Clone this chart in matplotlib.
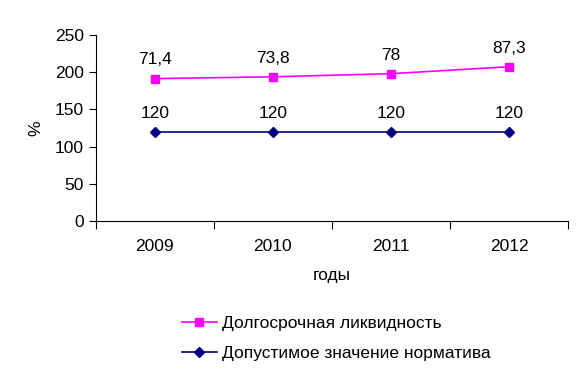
import matplotlib.pyplot as plt
import numpy as np

plt.rcParams['font.family'] = ['Liberation Sans', 'DejaVu Sans']

years = ['2009', '2010', '2011', '2012']
# линии в исходной диаграмме идут с накоплением
norm = [120, 120, 120, 120]
liquidity = [71.4, 73.8, 78, 87.3]

x = np.arange(len(years))
norm_arr = np.array(norm)
liq_stacked = norm_arr + np.array(liquidity)

fs = 12.5

fig = plt.figure(figsize=(5.88, 3.76), dpi=100)
ax = fig.add_axes([0.163, 0.412, 0.803, 0.495])

ax.plot(x, liq_stacked, color='#ff00ff', marker='s', markersize=6, lw=1.2,
        label='Долгосрочная ликвидность')
ax.plot(x, norm_arr, color='#000080', marker='D', markersize=5, lw=1.2,
        label='Допустимое значение норматива')

for i in range(len(x)):
    ax.annotate(str(liquidity[i]).replace('.', ','), (x[i], liq_stacked[i]),
                xytext=(0, 8), textcoords='offset points', ha='center',
                va='bottom', fontsize=fs)
    ax.annotate(str(norm[i]), (x[i], norm_arr[i]), xytext=(0, 8),
                textcoords='offset points', ha='center', va='bottom', fontsize=fs)

ax.set_xlim(-0.5, len(x) - 0.5)
ax.set_ylim(0, 250)
ax.set_yticks(range(0, 251, 50))
ax.set_xticks(np.arange(-0.5, len(x), 1.0))
ax.set_xticklabels([])
ax.set_xticks(x, minor=True)
ax.set_xticklabels(years, minor=True)
ax.tick_params(axis='x', which='minor', length=0, pad=13, labelsize=fs)
ax.tick_params(axis='x', which='major', direction='out', length=6)
ax.tick_params(axis='y', direction='out', length=5, labelsize=fs)
ax.spines['top'].set_visible(False)
ax.spines['right'].set_visible(False)

ax.set_ylabel('%', fontsize=fs, labelpad=8)
ax.set_xlabel('годы', fontsize=fs, labelpad=10)

fig.legend(loc='center', bbox_to_anchor=(0.572, 0.10), frameon=False,
           fontsize=fs, handlelength=2.0, handletextpad=0.3, labelspacing=0.9)

fig.savefig('out.png', dpi=100)
